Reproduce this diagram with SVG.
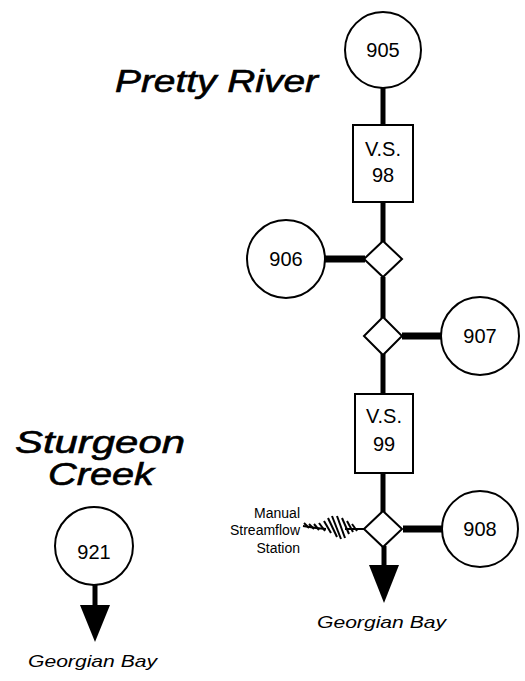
<svg xmlns="http://www.w3.org/2000/svg" width="525" height="681" viewBox="0 0 525 681">
<style>
.node{fill:#fff;stroke:#000;stroke-width:2}
.lbl{font-family:"Liberation Sans",Arial,sans-serif;font-size:20px;fill:#000;text-anchor:middle}
.title{font-family:"Liberation Sans",Arial,sans-serif;font-style:italic;font-size:31px;fill:#000;stroke:#000;stroke-width:0.6}
.bay{font-family:"Liberation Sans",Arial,sans-serif;font-style:italic;font-size:17px;fill:#000}
.small{font-family:"Liberation Sans",Arial,sans-serif;font-size:14px;fill:#000;text-anchor:end}
.main{stroke:#000;stroke-width:5;fill:none}
.side{stroke:#000;stroke-width:7;fill:none}
.hatch{stroke:#000;stroke-width:2;fill:none}
</style>
<rect width="525" height="681" fill="#fff"/>
<g id="titles">
<text class="title" x="115" y="92" textLength="203" lengthAdjust="spacingAndGlyphs">Pretty River</text>
<text class="title" x="15" y="453" textLength="170" lengthAdjust="spacingAndGlyphs">Sturgeon</text>
<text class="title" x="48" y="485" textLength="106" lengthAdjust="spacingAndGlyphs">Creek</text>
</g>
<g id="connectors">
<line class="main" x1="383" y1="87" x2="383" y2="125"/>
<line class="main" x1="383" y1="202" x2="383" y2="242"/>
<line class="main" x1="383" y1="277" x2="383" y2="318"/>
<line class="main" x1="383" y1="354" x2="383" y2="394"/>
<line class="main" x1="383" y1="473" x2="383" y2="512"/>
<line class="main" x1="384" y1="546" x2="384" y2="567"/>
<polygon points="369,565 399,565 384,603" fill="#000"/>
<line class="side" x1="325" y1="259" x2="365" y2="259"/>
<line class="side" x1="402" y1="336" x2="441" y2="336"/>
<line class="side" x1="403" y1="529" x2="442" y2="529"/>
<line class="main" x1="95" y1="585" x2="95" y2="607"/>
<polygon points="80,605 110,605 95,642" fill="#000"/>
<g id="manual-link">
<path class="hatch" d="M303,526 L316,528 L326,529 M345,529 L364,529"/>
<line class="hatch" x1="304" y1="523" x2="309" y2="528"/>
<line class="hatch" x1="309" y1="524" x2="314" y2="529"/>
<line class="hatch" x1="314" y1="524" x2="319" y2="530"/>
<line class="hatch" x1="319" y1="523" x2="325" y2="531"/>
<line class="hatch" x1="324" y1="521" x2="331" y2="533"/>
<line class="hatch" x1="328" y1="518" x2="337" y2="537"/>
<line class="hatch" x1="332" y1="516" x2="341" y2="539"/>
<line class="hatch" x1="337" y1="516" x2="345" y2="538"/>
<line class="hatch" x1="342" y1="518" x2="349" y2="534"/>
<line class="hatch" x1="347" y1="521" x2="353" y2="532"/>
<line class="hatch" x1="352" y1="524" x2="357" y2="531"/>
</g>
</g>
<g id="n905"><circle class="node" cx="383" cy="50" r="38"/><text class="lbl" x="383" y="57">905</text></g>
<g id="vs98"><rect class="node" x="353" y="125" width="60" height="77"/><text class="lbl" x="383" y="156">V.S.</text><text class="lbl" x="383" y="182">98</text></g>
<g id="j1"><polygon class="node" points="383,241 402,259 383,277 364,259"/></g>
<g id="n906"><circle class="node" cx="286" cy="259" r="39"/><text class="lbl" x="286" y="266">906</text></g>
<g id="j2"><polygon class="node" points="383,317 402,336 383,355 364,336"/></g>
<g id="n907"><circle class="node" cx="480" cy="336" r="39"/><text class="lbl" x="480" y="343">907</text></g>
<g id="vs99"><rect class="node" x="355" y="394" width="58" height="79"/><text class="lbl" x="384" y="423">V.S.</text><text class="lbl" x="384" y="451">99</text></g>
<g id="j3"><polygon class="node" points="383,511 402,529 383,547 364,529"/></g>
<g id="n908"><circle class="node" cx="480" cy="529" r="38"/><text class="lbl" x="480" y="536">908</text></g>
<g id="n921"><circle class="node" cx="94" cy="546" r="39"/><text class="lbl" x="94" y="559">921</text></g>
<g id="labels">
<text class="small" x="300" y="518">Manual</text>
<text class="small" x="300" y="535">Streamflow</text>
<text class="small" x="300" y="553">Station</text>
<text class="bay" x="317" y="628" textLength="129" lengthAdjust="spacingAndGlyphs">Georgian Bay</text>
<text class="bay" x="28" y="667" textLength="129" lengthAdjust="spacingAndGlyphs">Georgian Bay</text>
</g>
</svg>
